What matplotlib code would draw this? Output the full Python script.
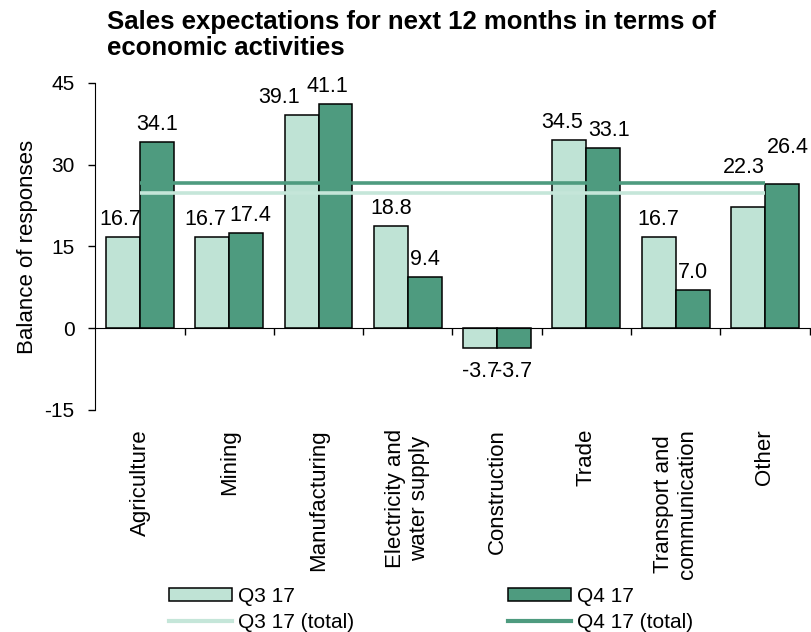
import numpy as np
import matplotlib
matplotlib.use("Agg")
import matplotlib.pyplot as plt
from matplotlib.patches import Patch
from matplotlib.lines import Line2D

plt.rcParams['font.family'] = ['Liberation Sans', 'DejaVu Sans']
plt.rcParams['axes.unicode_minus'] = False

# data
categories = ["Agriculture", "Mining", "Manufacturing", "Electricity and\nwater supply",
              "Construction", "Trade", "Transport and\ncommunication", "Other"]
q3_values = [16.7, 16.7, 39.1, 18.8, -3.7, 34.5, 16.7, 22.3]
q4_values = [34.1, 17.4, 41.1, 9.4, -3.7, 33.1, 7.0, 26.4]
q3_total = 24.9
q4_total = 26.6
series_names = ["Q3 17", "Q4 17"]
total_names = ["Q3 17 (total)", "Q4 17 (total)"]
y_ticks = [-15, 0, 15, 30, 45]

c_q3 = "#bfe3d5"
c_q4 = "#4e9b7f"

# label nudges (points) so neighbouring labels don't collide, like the original
q3_dx = [-2, -5, -16, 0, 0, -5, 0, -3]
q4_dx = [0, 3, -6, 0, 0, 4, 0, 4]

fig = plt.figure(figsize=(8.11, 6.32), dpi=100)
ax = fig.add_axes([0.1176, 0.3513, 0.8806, 0.5174])

x = np.arange(len(categories))
w = 0.38
b3 = ax.bar(x - w / 2, q3_values, w, color=c_q3, edgecolor="black", linewidth=1.1, zorder=2)
b4 = ax.bar(x + w / 2, q4_values, w, color=c_q4, edgecolor="black", linewidth=1.1, zorder=2)
anns3 = ax.bar_label(b3, fmt="%.1f", padding=5, fontsize=15.5)
anns4 = ax.bar_label(b4, fmt="%.1f", padding=5, fontsize=15.5)
for anns, vals, dxs in ((anns3, q3_values, q3_dx), (anns4, q4_values, q4_dx)):
    for a, v, dx in zip(anns, vals, dxs):
        a.xyann = (dx, 5 if v >= 0 else -9)
# the "Other" labels sit above the total lines in the reference
anns3[-1].xyann = (q3_dx[-1], 21)
anns4[-1].xyann = (q4_dx[-1], 19)

# totals drawn from first to last category centre
ax.hlines(q3_total, x[0], x[-1], color="#c5e6d9", lw=2.6, zorder=3)
ax.hlines(q4_total, x[0], x[-1], color=c_q4, lw=2.6, zorder=3)

ax.set_xlim(-0.5, len(categories) - 0.5)
ax.set_ylim(-15, 45)
ax.set_yticks(y_ticks)
ax.tick_params(axis="y", direction="out", length=5, width=1, labelsize=15, pad=10)

# x axis line at zero with ticks between groups
ax.spines["bottom"].set_position(("data", 0))
ax.spines["top"].set_visible(False)
ax.spines["right"].set_visible(False)
ax.set_xticks([])
ax.set_xticks(x + 0.5, minor=True)
ax.tick_params(axis="x", which="minor", direction="out", length=5, width=1, labelbottom=False)

for i, lab in enumerate(categories):
    ax.text(i, -0.058, lab, rotation=90, ha="center", va="top", fontsize=16,
            transform=ax.get_xaxis_transform())

ax.set_ylabel("Balance of responses", fontsize=16)
ax.yaxis.set_label_coords(-0.081, 0.5)

fig.text(0.132, 0.984, "Sales expectations for next 12 months in terms of\neconomic activities",
         fontsize=18.5, fontweight="bold", ha="left", va="top", linespacing=1.12)

handles = [Patch(facecolor=c_q3, edgecolor="black", linewidth=1.1),
           Line2D([], [], color="#c5e6d9", lw=3),
           Patch(facecolor=c_q4, edgecolor="black", linewidth=1.1),
           Line2D([], [], color=c_q4, lw=3)]
labels = [series_names[0], total_names[0], series_names[1], total_names[1]]
fig.legend(handles, labels, ncol=2, loc="upper left", bbox_to_anchor=(0.2084, 0.071),
           bbox_transform=fig.transFigure, frameon=False, fontsize=15,
           handlelength=3.0, handleheight=0.6, handletextpad=0.3,
           columnspacing=7.4, labelspacing=0.35, borderpad=0, borderaxespad=0)

fig.savefig("out.png", dpi=100)
